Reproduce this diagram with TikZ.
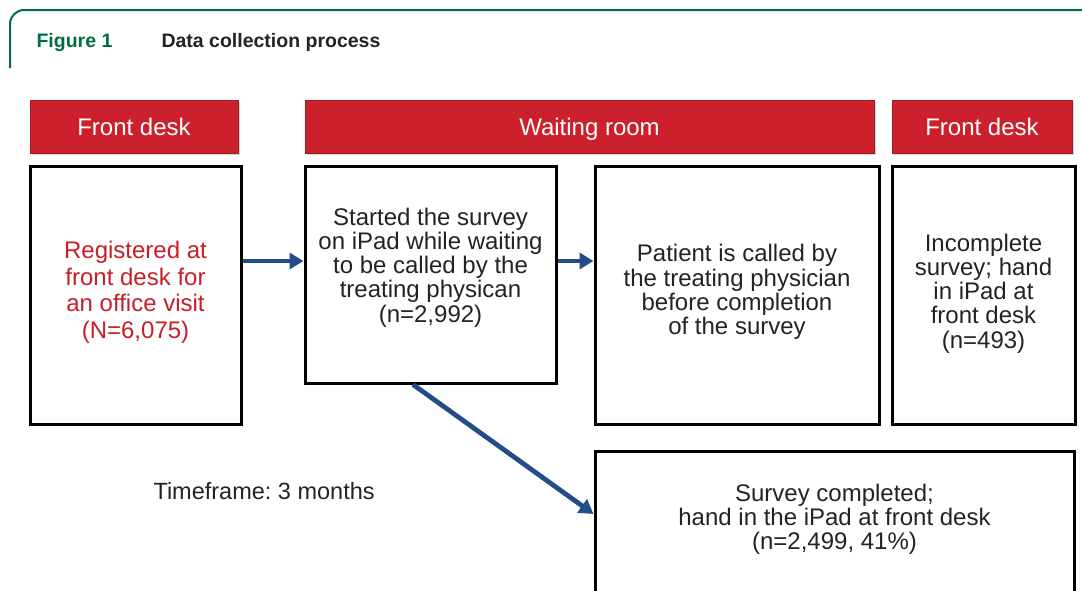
\documentclass[tikz,border=0pt]{standalone}
\usepackage{fontspec}
\setmainfont{Liberation Sans}
\usetikzlibrary{arrows.meta,shadows,calc}
\frenchspacing
\definecolor{hdrred}{RGB}{204,32,44}
\definecolor{txtred}{RGB}{200,30,40}
\definecolor{arrblue}{RGB}{36,76,136}
\definecolor{frgreen}{RGB}{0,110,64}
\definecolor{txtgray}{RGB}{35,35,35}
\tikzset{
  hdr/.style={fill=hdrred, draw=hdrred!80!black, line width=0.6pt, text=white,
    font=\fontsize{24}{26}\selectfont, inner sep=0pt, text depth=0pt,
    drop shadow={shadow xshift=1.5pt, shadow yshift=-2pt, opacity=0.35}},
  box/.style={draw=black, line width=3pt, fill=white, inner sep=0pt},
  boxtext/.style={align=center, inner sep=0pt, text=txtgray, font=\fontsize{24}{24.2}\selectfont},
  flow/.style={draw=arrblue, line width=4.8pt, -{Triangle[length=14pt,width=16pt]}}
}
\begin{document}
\begin{tikzpicture}[x=1pt,y=-1pt]
\clip (0,0) rectangle (1082,590);
\fill[white] (0,0) rectangle (1082,590);
% frame
\draw[frgreen, line width=2pt, rounded corners=14pt] (10,68) -- (10,10) -- (1090,10);
\node[anchor=base west, text=frgreen, font=\fontsize{19.5}{22}\selectfont\bfseries] (fig) at (33,47) {Figure 1};
\node[anchor=base west, text=txtgray, font=\fontsize{19.5}{22}\selectfont\bfseries] (title) at (158,47) {Data collection process};
% headers
\node[hdr, minimum width=208pt, minimum height=53pt] (h1) at (134,126.5) {Front desk};
\node[hdr, minimum width=569pt, minimum height=53pt] (h2) at (589.5,126.5) {Waiting room};
\node[hdr, minimum width=180pt, minimum height=53pt] (h3) at (982,126.5) {Front desk};
% boxes
\node[box, minimum width=211pt, minimum height=258pt] (b1) at (135.5,295) {};
\node[box, minimum width=251pt, minimum height=217pt] (b2) at (430.5,274.5) {};
\node[box, minimum width=284pt, minimum height=258pt] (b3) at (737,295) {};
\node[box, minimum width=183pt, minimum height=258pt] (b4) at (983.5,295) {};
\node[box, minimum width=479pt, minimum height=150pt] (b5) at (834.5,526) {};
% box texts
\node[boxtext, text=txtred, font=\fontsize{24}{26.5}\selectfont] (t1) at ($(b1)+(0,-2.5)$)
  {Registered at\\front desk for\\an office visit\\(N=6,075)};
\node[boxtext] (t2) at ($(b2)+(0,-7)$)
  {Started the survey\\on iPad while waiting\\to be called by the\\treating physican\\(n=2,992)};
\node[boxtext] (t3) at ($(b3)+(0,-3)$)
  {Patient is called by\\the treating physician\\before completion\\of the survey};
\node[boxtext] (t4) at ($(b4)+(0,-1.5)$)
  {Incomplete\\survey; hand\\in iPad at\\front desk\\(n=493)};
\node[boxtext] (t5) at ($(b5)+(0,-6.5)$)
  {Survey completed;\\hand in the iPad at front desk\\(n=2,499, 41\%)};
\node[anchor=base west, text=txtgray, font=\fontsize{23.5}{26}\selectfont] (tf) at (150,499) {Timeframe: 3 months};
% arrows
\draw[flow] (b1.east |- 0,261) -- (b2.west |- 0,261);
\draw[flow] (b2.east |- 0,261) -- (b3.west |- 0,261);
\draw[flow] (b2.south -| 413,0) -- (b5.west |- 0,514);
\end{tikzpicture}
\end{document}
